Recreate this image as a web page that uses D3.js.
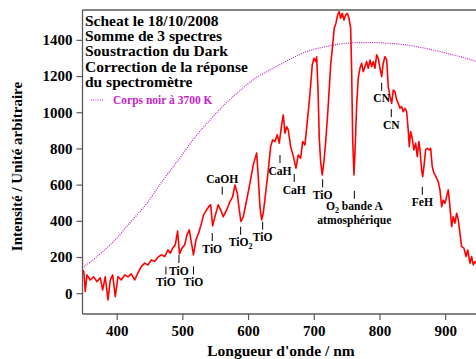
<!DOCTYPE html>
<html>
<head>
<meta charset="utf-8">
<script src="https://cdn.jsdelivr.net/npm/d3@7/dist/d3.min.js"></script>
<style>
  html, body { margin: 0; padding: 0; background: #fff; }
  svg { display: block; }
  text { font-family: "Liberation Serif", "Times New Roman", serif; }
</style>
</head>
<body>
<svg id="chart" width="476" height="359"></svg>
<script>
// Spectre de Scheat (β Peg) — longueur d'onde (nm) et intensité relative
const wavelength = [348,350,352.2,354.8,359.8,365,370,375,378.7,382.6,386.8,390.3,393.9,397.9,402,407,412.2,417.2,422.2,427.4,432.4,437.4,442.6,447.6,452.7,457.8,462.9,467.9,473.1,478.1,481.6,485.2,489.2,492.8,495.6,499.4,503.5,507,510.5,513.5,516.9,520.7,524.8,528.8,532.4,535.9,540,543.1,546.1,549.6,554.6,558.3,562.3,567.4,572.5,576.6,580.1,583.6,586.6,589.2,592.7,597.9,602.9,607.9,613.1,615.5,618.1,620.7,623.1,626.8,630.8,634.4,637.4,641,644.5,647.5,651.1,653.6,656.2,658.8,661.2,664.8,668.8,672.9,676.4,680.1,683.1,686.6,690.1,693.2,695.3,697.7,700.3,702.9,704.4,706.4,708.4,710.5,712.9,715.5,718.6,722.1,725.7,728.8,731.2,733.8,736.4,738.8,740.9,743.4,746,748.6,751,753.6,756.2,757.7,759.2,761.2,763.2,765.3,767.7,770.3,772.9,775.4,777.9,780.5,783,785.6,788.1,790.6,793.2,795.7,798.2,800.8,803.4,805.8,808.4,811,813.4,816,818.6,821,823.6,826.2,828.6,831.2,833.8,836.2,838.8,841.4,843.8,845.4,847.5,849.9,852.5,855.1,857.5,860.1,861.7,864.2,865.8,867.7,870.3,872.8,875.8,877.9,880.4,883,886,889.5,892.1,894.7,897.1,899.7,902.3,904.7,907.3,909.9,912.3,914.9,917.5,920,922.5,925.1,928.6,931.7,934.3,937.8,940.3,942.8,945.4,948.4];
const intensity = [129,119,9,101,73,90,64,85,18,90,-37,73,101,-19,92,73,101,90,107,73,112,147,166,156,184,175,199,212,202,239,221,249,267,344,217,249,267,322,350,285,212,294,333,383,433,455,478,488,372,423,488,460,423,460,506,534,598,553,460,396,423,515,608,709,774,644,478,405,442,553,681,810,847,838,875,829,930,985,884,920,902,810,759,691,764,746,838,819,948,1059,1151,1261,1298,1280,1307,1133,856,727,654,727,856,1040,1261,1372,1464,1492,1538,1556,1519,1547,1510,1538,1547,1519,1464,1224,856,654,819,1040,1188,1243,1271,1224,1252,1280,1243,1289,1252,1280,1243,1317,1298,1243,1197,1271,1307,1289,1141,1086,1050,1123,1114,1068,1050,1022,1031,1003,1022,1003,902,810,893,856,792,829,755,838,792,681,644,699,792,801,792,801,699,663,644,617,571,478,515,497,534,571,478,368,423,387,442,405,332,257,249,202,239,166,202,156,175,162];

// Courbe du corps noir à 3700 K (même échelle d'intensité)
const bbWavelength = [340,348,372,395,420,446,470,496,520,547,565,583,610,638,665,689,715,740,765,790,815,841,866,892,920,950,960];
const bbIntensity  = [112,138,208,285,388,497,622,746,865,976,1045,1105,1185,1243,1295,1335,1360,1377,1384,1385,1381,1372,1356,1335,1310,1278,1266];

// Axes
const xTicks = [400,500,600,700,800,900];
const yTicks = [0,200,400,600,800,1000,1200,1400];

// Raies et bandes identifiées
const annoLabels = [["TiO"],["TiO"],["TiO"],["TiO"],["CaOH"],["TiO_2"],["TiO"],["CaH"],["CaH"],["TiO"],["O_2 bande A","atmosphérique"],["CN"],["CN"],["FeH"]];
const annoWavelength = [475.0,494.8,516.9,545.5,560.7,588.7,622.2,648.6,670.3,713.5,761.8,803.4,818.0,865.2];
const annoLevel = [147.5,211,147.5,332.6,588.4,367,395,763.5,658.6,629,566,1163,1017.7,588];
const annoAbove = [false,false,false,false,true,false,false,false,false,false,false,false,false,false];

const titleLines = ["Scheat le 18/10/2008","Somme de 3 spectres","Soustraction du Dark","Correction de la réponse","du spectromètre"];

const svg = d3.select("#chart");
const W = 476, H = 359;
const m = {left: 82.5, top: 10, right: 0, bottom: 45};

const x = d3.scaleLinear().domain([348, 950]).range([m.left, 478]);
const y = d3.scaleLinear().domain([-115, 1565]).range([H - m.bottom, m.top]);

svg.append("defs").append("clipPath").attr("id", "plot")
  .append("rect").attr("x", m.left).attr("y", m.top)
  .attr("width", W - m.left).attr("height", H - m.bottom - m.top);

const axisColor = "#5a5a5a";

// Cadre supérieur
svg.append("line")
  .attr("x1", m.left).attr("x2", W).attr("y1", m.top).attr("y2", m.top)
  .attr("stroke", axisColor).attr("stroke-width", 1.3);

// Axe Y
const gy = svg.append("g").attr("transform", `translate(${m.left},0)`)
  .call(d3.axisLeft(y).tickValues(yTicks).tickSize(6).tickSizeOuter(0).tickPadding(4).tickFormat(d3.format("d")));
// Axe X
const gx = svg.append("g").attr("transform", `translate(0,${H - m.bottom})`)
  .call(d3.axisBottom(x).tickValues(xTicks).tickSize(6).tickSizeOuter(0).tickPadding(5).tickFormat(d3.format("d")));

[gx, gy].forEach(g => {
  g.select(".domain").attr("stroke", axisColor).attr("stroke-width", 1.3);
  g.selectAll(".tick line").attr("stroke", axisColor).attr("stroke-width", 1.2);
  g.selectAll(".tick text").attr("fill", "#000")
    .style("font-family", '"Liberation Serif", "Times New Roman", serif')
    .style("font-size", "15px").style("font-weight", "bold");
});
// prolonger l'axe Y jusqu'au cadre
gy.select(".domain").attr("d", `M0,${H - m.bottom}V${m.top}`);
gx.select(".domain").attr("d", `M${m.left},0H${W}`);

// Titres des axes
svg.append("text")
  .attr("x", 281).attr("y", 355.5).attr("text-anchor", "middle")
  .style("font-size", "15.5px").style("font-weight", "bold")
  .text("Longueur d'onde / nm");
svg.append("text")
  .attr("transform", "translate(22,166.5) rotate(-90)").attr("text-anchor", "middle")
  .style("font-size", "15px").style("font-weight", "bold")
  .text("Intensité / Unité arbitraire");

const plot = svg.append("g").attr("clip-path", "url(#plot)");

// Corps noir (pointillés)
const bbData = d3.zip(bbWavelength, bbIntensity);
plot.append("path").datum(bbData)
  .attr("fill", "none").attr("stroke", "#c81ec8").attr("stroke-width", 1.2)
  .attr("stroke-dasharray", "1,1.2")
  .attr("d", d3.line().x(d => x(d[0])).y(d => y(d[1])).curve(d3.curveMonotoneX));

// Spectre
const spec = d3.zip(wavelength, intensity);
plot.append("path").datum(spec)
  .attr("fill", "none").attr("stroke", "#ff0000").attr("stroke-width", 1.6)
  .attr("stroke-linejoin", "round")
  .attr("d", d3.line().x(d => x(d[0])).y(d => y(d[1])));

// Annotations
function addLabel(sel, str) {
  const parts = str.split("_");
  if (parts.length === 1) { sel.text(str); return; }
  sel.append("tspan").text(parts[0]);
  sel.append("tspan").attr("dy", "2.5").style("font-size", "8px").text(parts[1].charAt(0));
  const rest = parts[1].slice(1);
  if (rest) sel.append("tspan").attr("dy", "-2.5").text(rest);
}
const ann = svg.append("g");
annoLabels.forEach((lines, i) => {
  const ax = x(annoWavelength[i]);
  const ay = y(annoLevel[i]);
  ann.append("line").attr("x1", ax).attr("x2", ax).attr("y1", ay).attr("y2", ay + 8)
    .attr("stroke", "#000").attr("stroke-width", 1);
  lines.forEach((ln, j) => {
    const cy = annoAbove[i] ? ay - 8 : ay + 15.5 + j * 13.5;
    const t = ann.append("text").attr("x", ax).attr("y", cy + 4)
      .attr("text-anchor", "middle").style("font-size", "11.6px")
      .style("font-weight", "bold").attr("fill", "#000");
    addLabel(t, ln);
  });
});

// Bloc de titre
const tb = svg.append("text").attr("x", 85).attr("y", 25.5)
  .style("font-size", "15.5px").style("font-weight", "bold");
titleLines.forEach((s, i) => {
  tb.append("tspan").attr("x", 85).attr("y", 25.5 + i * 15.4).text(s);
});

// Légende
svg.append("line").attr("x1", 91).attr("x2", 104).attr("y1", 100).attr("y2", 100)
  .attr("stroke", "#c81ec8").attr("stroke-width", 1.2).attr("stroke-dasharray", "1,1.2");
svg.append("text").attr("x", 113).attr("y", 104)
  .style("font-size", "11.5px").style("font-weight", "bold").attr("fill", "#c81ec8")
  .text("Corps noir à 3700 K");
</script>
</body>
</html>
